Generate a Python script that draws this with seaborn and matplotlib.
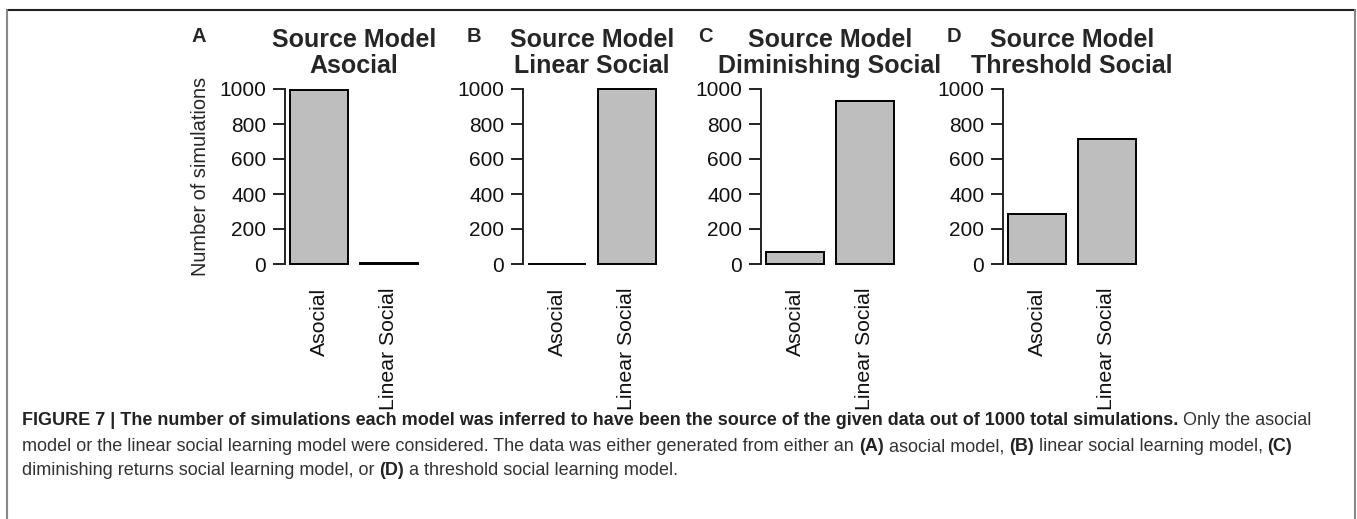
import matplotlib
matplotlib.use("Agg")
import matplotlib.pyplot as plt
import seaborn as sns
from matplotlib.lines import Line2D

# data
inferred_models = ["Asocial", "Linear Social"]
panel_letters = ["A", "B", "C", "D"]
source_models = ["Asocial", "Linear Social", "Diminishing Social", "Threshold Social"]
asocial_counts = [996, 2, 70, 285]
linear_counts = [4, 998, 930, 715]
yticks = [0, 200, 400, 600, 800, 1000]

sns.set_style("white")
plt.rcParams["font.family"] = ["Liberation Sans", "DejaVu Sans"]

W, H = 1357, 519
fig = plt.figure(figsize=(W / 100, H / 100), dpi=100)

axis_x = [285, 523, 761, 1003]   # pixel x of each y axis
ax_w = 138
ax_top, ax_bot = 82, 271

for i in range(4):
    ax = fig.add_axes([axis_x[i] / W, 1 - ax_bot / H, ax_w / W, (ax_bot - ax_top) / H])
    sns.barplot(x=inferred_models, y=[asocial_counts[i], linear_counts[i]], ax=ax,
                color="#BEBEBE", saturation=1, edgecolor="black", linewidth=1.4,
                width=0.833)
    ax.set_xlim(-0.49, 1.49)
    ax.set_ylim(-40, 1040)
    ax.set_yticks(yticks)
    ax.set_yticklabels([str(t) for t in yticks], fontsize=15)
    for s in ["top", "right", "bottom"]:
        ax.spines[s].set_visible(False)
    ax.spines["left"].set_bounds(0, 1000)
    ax.spines["left"].set_linewidth(1.4)
    ax.spines["left"].set_color("#222222")
    ax.tick_params(axis="y", length=8.5, width=1.4, pad=5, colors="#222222",
                   labelcolor="#111111", left=True)
    ax.tick_params(axis="x", length=0, pad=12, labelsize=15.3, labelcolor="#111111")
    for lab in ax.get_xticklabels():
        lab.set_rotation(90)
        lab.set_va("top")
    ax.set_title("Source Model\n" + source_models[i], fontsize=18, fontweight="bold",
                 pad=6.5, linespacing=1.12)
    if i == 0:
        ax.set_ylabel("Number of simulations", fontsize=14.4, labelpad=7)

letter_x = [192, 467, 698, 947]
for i in range(4):
    fig.text(letter_x[i] / W, 1 - 42 / H, panel_letters[i], fontsize=14.5,
             fontweight="bold", ha="left", va="baseline")

# frame lines
fig.add_artist(Line2D([7 / W, 1355 / W], [1 - 10 / H, 1 - 10 / H], color="#222222", lw=1.5))
fig.add_artist(Line2D([7 / W, 7 / W], [1 - 10 / H, 0], color="#888888", lw=1.5))
fig.add_artist(Line2D([1355 / W, 1355 / W], [1 - 10 / H, 0], color="#888888", lw=1.5))

# caption, mixed bold / regular runs
caption = [
    [("FIGURE 7 | The number of simulations each model was inferred to have been the source of the given data out of 1000 total simulations.", True),
     (" Only the asocial", False)],
    [("model or the linear social learning model were considered. The data was either generated from either an ", False),
     ("(A)", True), (" asocial model, ", False), ("(B)", True),
     (" linear social learning model, ", False), ("(C)", True)],
    [("diminishing returns social learning model, or ", False), ("(D)", True),
     (" a threshold social learning model.", False)],
]
baselines = [425, 451, 475]
renderer = fig.canvas.get_renderer()
for line, yb in zip(caption, baselines):
    x = 22
    for txt, bold in line:
        t = fig.text(x / W, 1 - yb / H, txt, fontsize=13.0,
                     fontweight="bold" if bold else "normal",
                     color="#222222" if bold else "#333333",
                     ha="left", va="baseline")
        x += t.get_window_extent(renderer).width

fig.savefig("out.png", dpi=100)
